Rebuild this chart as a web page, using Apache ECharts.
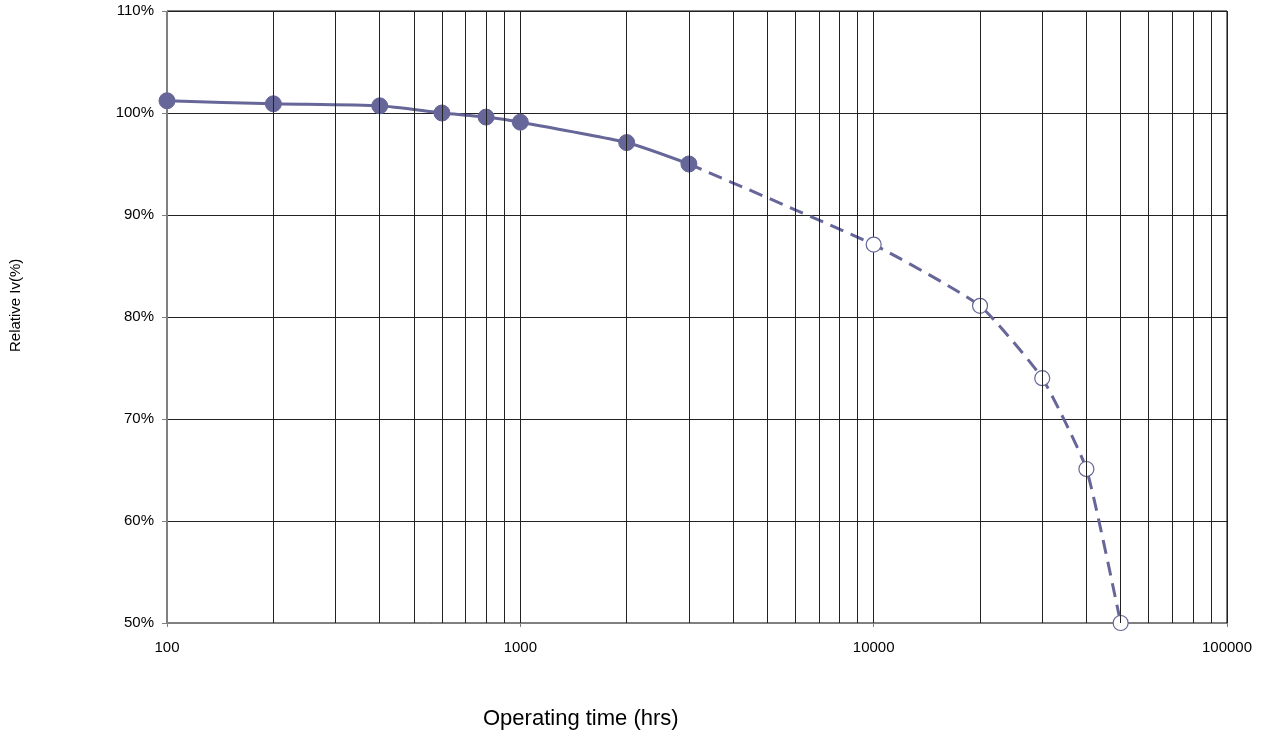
<!DOCTYPE html>
<html>
<head>
<meta charset="utf-8">
<script src="https://cdn.jsdelivr.net/npm/echarts@6/dist/echarts.min.js"></script>
<style>html,body{margin:0;padding:0;background:#fff;}#c{width:1265px;height:740px;}</style>
</head>
<body>
<div id="c"></div>
<script>
// Measured data (solid = tested, dashed = projected)
const measuredHours = [100, 200, 400, 600, 800, 1000, 2000, 3000];
const measuredIv = [101.2, 100.9, 100.7, 100.0, 99.6, 99.1, 97.1, 95.0];
const projectedHours = [3000, 10000, 20000, 30000, 40000, 50000];
const projectedIv = [95.0, 87.1, 81.1, 74.0, 65.1, 50.0];
const minorGridHours = [200,300,400,500,600,700,800,900,2000,3000,4000,5000,6000,7000,8000,9000,20000,30000,40000,50000,60000,70000,80000,90000];
const xTitle = 'Operating time (hrs)';
const yTitle = 'Relative Iv(%)';

const COLOR = '#666699';
const FONT = 'Liberation Sans, Arial, sans-serif';

const chart = echarts.init(document.getElementById('c'), null, {renderer: 'canvas'});
const solidData = measuredHours.map((h, i) => [h, measuredIv[i]]);
const dashData = projectedHours.map((h, i) => i === 0 ? {value: [h, projectedIv[i]], symbol: 'none'} : [h, projectedIv[i]]);

chart.setOption({
  animation: false,
  backgroundColor: '#fff',
  grid: {left: 167, right: 38, top: 11, bottom: 117, show: true, borderColor: '#000', borderWidth: 1},
  xAxis: {
    type: 'log', logBase: 10, min: 100, max: 100000,
    axisLine: {lineStyle: {color: '#808080', width: 1}},
    axisTick: {show: true, length: 4, lineStyle: {color: '#808080'}},
    splitLine: {show: true, lineStyle: {color: '#222', width: 1}},
    axisLabel: {color: '#000', fontFamily: FONT, fontSize: 15, margin: 17, formatter: v => String(Math.round(v))}
  },
  yAxis: {
    type: 'value', min: 50, max: 110, interval: 10,
    axisLine: {show: true, lineStyle: {color: '#808080', width: 1}},
    axisTick: {show: true, length: 5, lineStyle: {color: '#808080'}},
    splitLine: {show: true, lineStyle: {color: '#222', width: 1}},
    axisLabel: {color: '#000', fontFamily: FONT, fontSize: 15, margin: 13, formatter: '{value}%'}
  },
  graphic: [
    {type: 'text', left: 483, top: 708, style: {text: xTitle, font: '22px ' + FONT, fill: '#000'}},
    {type: 'text', x: 8, y: 352, rotation: Math.PI / 2, style: {text: yTitle, font: '15px ' + FONT, fill: '#000'}}
  ],
  series: [
    {
      type: 'line', data: [[100, 50]], showSymbol: false, silent: true, z: 1,
      lineStyle: {opacity: 0},
      markLine: {
        silent: true, symbol: 'none', label: {show: false},
        lineStyle: {color: '#222', width: 1, type: 'solid'},
        data: minorGridHours.map(h => ({xAxis: h}))
      }
    },
    {
      type: 'line', data: dashData, smooth: 0.15, z: 3,
      symbol: 'circle', symbolSize: 15,
      itemStyle: {color: '#fff', borderColor: COLOR, borderWidth: 1.2},
      lineStyle: {color: COLOR, width: 3, type: [14, 8]}
    },
    {
      type: 'line', data: solidData, smooth: 0.2, z: 4,
      symbol: 'circle', symbolSize: 16,
      itemStyle: {color: COLOR, borderColor: COLOR},
      lineStyle: {color: COLOR, width: 3}
    }
  ]
});
</script>
</body>
</html>
